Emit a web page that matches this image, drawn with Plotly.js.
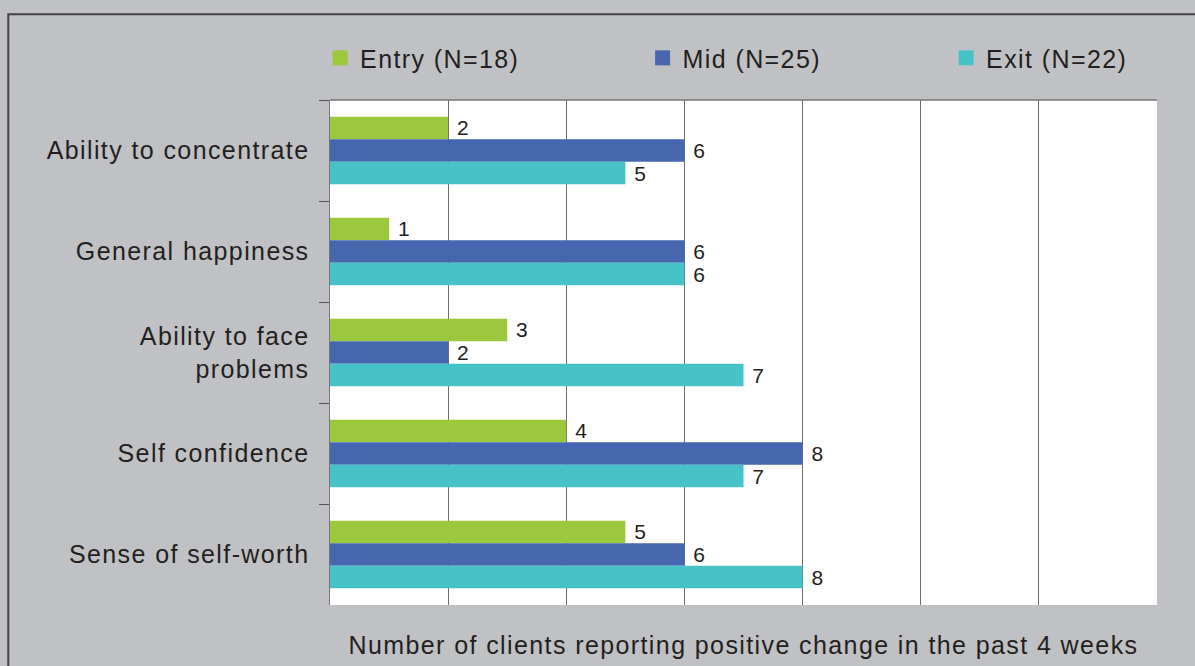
<!DOCTYPE html>
<html>
<head>
<meta charset="utf-8">
<script src="https://cdn.plot.ly/plotly-3.0.1.min.js"></script>
<style>
html,body{margin:0;padding:0;background:#c0c1c4;}
#chart .main-svg text{letter-spacing:1.4px;}
#chart .scrollbox{clip-path:none !important;}
</style>
</head>
<body>
<div id="chart" style="width:1195px;height:666px;"></div>
<script>
const categories = ["Ability to concentrate", "General happiness", "Ability to face<br>problems", "Self confidence", "Sense of self-worth"];
const seriesNames = ["Entry (N=18)", "Mid (N=25)", "Exit (N=22)"];
const entryValues = [2, 1, 3, 4, 5];
const midValues = [6, 6, 2, 8, 6];
const exitValues = [5, 6, 7, 7, 8];
const colors = ["#9bc83c", "#4666b0", "#47c3c7"];
const xTitle = "Number of clients reporting positive change in the past 4 weeks";

const FONT = "Liberation Sans, Arial, Helvetica, sans-serif";
const allValues = [entryValues, midValues, exitValues];
const legendIds = ["legend", "legend2", "legend3"];
const traces = allValues.map((vals, i) => ({
  type: "bar",
  orientation: "h",
  name: seriesNames[i],
  x: vals,
  y: categories,
  marker: {color: colors[i], line: {width: 0}},
  text: vals.map(v => String(v)),
  texttemplate: " %{text}",
  textposition: "outside",
  constraintext: "none",
  cliponaxis: false,
  textfont: {family: FONT, size: 21, color: "#231f20"},
  legend: legendIds[i],
  hoverinfo: "x+y"
}));

const legendBase = {
  orientation: "h",
  bgcolor: "rgba(0,0,0,0)",
  font: {family: FONT, size: 25, color: "#231f20"},
  xanchor: "left",
  yanchor: "middle",
  y: 1.083,
  itemwidth: 30
};

const layout = {
  width: 1195,
  height: 666,
  paper_bgcolor: "#c0c1c4",
  plot_bgcolor: "#ffffff",
  margin: {l: 330, r: 38, t: 100, b: 61, pad: 0, autoexpand: false},
  barmode: "group",
  bargap: 0.33,
  bargroupgap: 0,
  showlegend: true,
  legend: Object.assign({}, legendBase, {x: -0.012}),
  legend2: Object.assign({}, legendBase, {x: 0.378}),
  legend3: Object.assign({}, legendBase, {x: 0.745}),
  xaxis: {
    range: [0, 14],
    dtick: 2,
    showgrid: true,
    gridcolor: "#6e6e6e",
    gridwidth: 1,
    showticklabels: false,
    ticks: "",
    zeroline: false,
    showline: false,
    title: {text: xTitle, font: {family: FONT, size: 25, color: "#231f20"}, standoff: 31}
  },
  yaxis: {
    autorange: "reversed",
    type: "category",
    showline: true,
    linecolor: "#777777",
    linewidth: 1.5,
    ticks: "outside",
    tickson: "boundaries",
    ticklen: 10,
    tickcolor: "#555555",
    tickwidth: 1,
    showgrid: false,
    ticklabelstandoff: 14,
    tickfont: {family: FONT, size: 25, color: "#231f20"}
  },
  shapes: [
    {type: "line", xref: "paper", yref: "paper", x0: 0, x1: 1, y0: 1, y1: 1, line: {color: "#777777", width: 1.5}},
    {type: "rect", xref: "paper", yref: "paper", x0: -0.389, x1: 1.2, y0: -0.2, y1: 1.170, line: {color: "#444444", width: 2}, fillcolor: "rgba(0,0,0,0)", layer: "below"}
  ]
};

Plotly.newPlot("chart", traces, layout, {displayModeBar: false, staticPlot: true}).then(gd => {
  gd.querySelectorAll(".infolayer g[class^='legend'], .infolayer g[class^='legend'] *").forEach(el => {
    if (el.hasAttribute("clip-path")) el.removeAttribute("clip-path");
  });
  gd.querySelectorAll(".infolayer .legendpoints path").forEach(p => {
    p.setAttribute("d", "M7.5,7.5H-7.5V-7.5H7.5Z");
  });
});
</script>
</body>
</html>
